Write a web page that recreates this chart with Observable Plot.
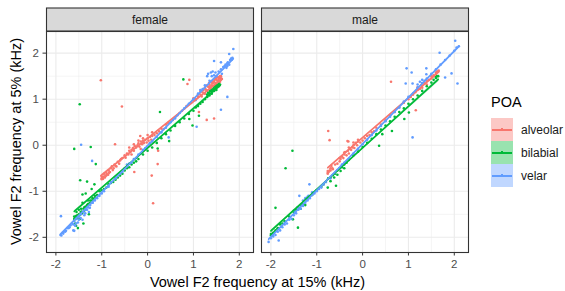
<!DOCTYPE html>
<html><head><meta charset="utf-8">
<script src="https://cdn.jsdelivr.net/npm/d3@7"></script>
<script src="https://cdn.jsdelivr.net/npm/@observablehq/plot@0.6"></script>
<style>
body{margin:0;background:#fff;font-family:"Liberation Sans",Arial,sans-serif;}
#wrap{position:relative;width:565px;height:291px;overflow:hidden;}
#legend{position:absolute;left:491px;top:94px;}
#legend .lt{font-size:14.5px;color:#000;height:24px;line-height:16px;}
#legend .row{display:flex;align-items:center;height:23px;}
#legend .key{position:relative;width:22px;height:23px;}
#legend .key i{position:absolute;left:1px;right:1px;top:10.5px;height:2px;}
#legend .key b{position:absolute;left:10px;top:10px;width:2px;height:3px;}
#legend .lab{font-size:12px;color:#1A1A1A;margin-left:8px;}
</style></head><body><div id="wrap"></div>
<script>
const facets = ["female", "male"];
const groups = ["alveolar", "bilabial", "velar"];
const colors = ["#F8766D", "#00BA38", "#619CFF"];
const xTicks = [-2, -1, 0, 1, 2];
const yTicks = [-2, -1, 0, 1, 2];
const minorTicks = [-1.5, -0.5, 0.5, 1.5];
const xTitle = "Vowel F2 frequency at 15% (kHz)";
const yTitle = "Vowel F2 frequency at 5% (kHz)";
const legendTitle = "POA";

const femaleAlveolar = [[-1.0,-0.68],[-0.95,-0.62],[-0.9,-0.6],[-0.85,-0.55],[-0.8,-0.5],[-0.78,-0.46],[-0.72,-0.42],[-0.7,-0.45],[-0.65,-0.36],[-0.6,-0.33],[-0.58,-0.3],[-0.55,-0.28],[-0.5,-0.22],[-0.48,-0.27],[-0.45,-0.18],[-0.42,-0.2],[-0.4,-0.12],[-0.38,-0.15],[-0.35,-0.1],[-0.32,-0.06],[-0.3,-0.12],[-0.28,-0.02],[-0.25,-0.05],[-0.22,0.0],[-0.2,0.04],[-0.18,-0.03],[-0.15,0.08],[-0.12,0.02],[-0.1,0.1],[-0.08,0.05],[-0.05,0.12],[-0.02,0.06],[0.0,0.15],[0.02,0.1],[0.05,0.18],[0.08,0.12],[0.1,0.2],[0.15,0.22],[0.2,0.26],[0.25,0.3],[0.3,0.36],[0.35,0.35],[0.4,0.45],[0.45,0.48],[0.55,0.55],[0.65,0.65],[0.75,0.75],[0.85,0.85],[0.95,0.92],[1.0,0.98],[1.05,1.0],[1.1,1.05],[1.15,1.1],[1.18,1.06],[1.2,1.15],[1.25,1.12],[1.28,1.2],[1.3,1.18],[1.35,1.25],[1.38,1.22],[1.4,1.3],[1.45,1.28],[1.48,1.35],[1.5,1.32],[1.55,1.4],[1.58,1.38],[1.6,1.45],
  [-1.0,-0.72],[-0.98,-0.7],[-0.96,-0.68],[-0.92,-0.66],[-0.88,-0.63],[-0.84,-0.6],[-0.82,-0.58],[-0.76,-0.54],[-0.74,-0.5],[-0.68,-0.46],[-0.62,-0.4],[1.0,1.02],[1.1,1.1],[1.15,1.16],[1.22,1.2],[1.25,1.25],[1.32,1.27],[1.35,1.32],[1.42,1.34],[1.45,1.38],[1.5,1.42],[1.52,1.4],[1.56,1.46],[1.6,1.5],[1.62,1.44],[1.58,1.47],[1.48,1.45],[1.4,1.36],
  [1.3,1.3],[1.34,1.35],[1.38,1.38],[1.42,1.4],[1.46,1.42],[1.5,1.46],[1.54,1.48],[1.58,1.5],[1.6,1.42],[1.55,1.44],[1.44,1.36],[1.36,1.28],[1.26,1.22],[1.2,1.2],[-0.4,-0.05],[-0.3,0.02],[-0.2,0.1],[-0.1,0.15],[0.0,0.22],[0.1,0.28],[-0.35,-0.2],[-0.15,-0.08],[0.05,0.05],[-1.0,-0.74],[-0.97,-0.73],[-0.93,-0.7],[-0.9,-0.66],[-0.86,-0.64],
  [-1.02,1.41],[-0.56,0.84],[-0.71,0.02],[0.12,-1.26],[0.09,-0.66],[-0.29,-0.58],[0.91,1.42],[0.87,1.33],[1.45,0.58],[1.29,0.55],[0.22,-0.41],[0.23,-0.12],[-0.16,0.2],[1.12,0.72]];
const femaleBilabial = [[-1.6,-1.55],[-1.58,-1.7],[-1.55,-1.45],[-1.52,-1.8],[-1.5,-1.4],[-1.48,-1.6],[-1.45,-1.38],[-1.42,-1.25],[-1.4,-1.7],[-1.38,-1.35],[-1.35,-1.05],[-1.32,-1.3],[-1.3,-1.2],[-1.28,-1.5],[-1.25,-1.2],[-1.22,-0.95],[-1.2,-1.15],[-1.15,-1.1],[-1.1,-1.08],[-1.05,-1.0],[-1.0,-0.98],[-0.95,-0.95],[-0.9,-0.92],[-0.85,-0.85],[-0.8,-0.82],[-0.75,-0.8],[-0.7,-0.75],[-0.65,-0.7],[-0.6,-0.66],[-0.55,-0.62],[-0.5,-0.55],[-0.45,-0.5],[-0.4,-0.48],[-0.35,-0.42],[-0.3,-0.38],[-0.25,-0.35],[-0.2,-0.3],[-0.1,-0.2],[0.0,-0.12],[0.1,-0.05],[0.2,0.05],[0.3,0.15],[0.4,0.24],[0.5,0.32],[0.6,0.42],[0.7,0.5],[0.8,0.58],[0.9,0.68],[1.0,0.75],[1.05,0.82],[1.1,0.85],[1.15,0.9],[1.2,0.94],[1.25,1.0],[1.3,1.05],[1.35,1.08],[1.4,1.12],[1.45,1.18],[1.5,1.2],[1.55,1.28],
  [-1.6,-1.6],[-1.58,-1.56],[-1.56,-1.54],[-1.54,-1.53],[-1.52,-1.52],[-1.5,-1.5],[-1.46,-1.45],[-1.44,-1.44],[-1.4,-1.38],[-1.36,-1.34],[-1.34,-1.33],[-1.3,-1.28],[-1.26,-1.25],[-1.22,-1.2],[-1.18,-1.17],[-1.14,-1.14],[1.3,1.1],[1.35,1.13],[1.4,1.18],[1.45,1.22],[1.48,1.24],[1.5,1.26],[1.52,1.28],[1.55,1.31],[1.58,1.32],[1.42,1.21],
  [-1.6,-1.62],[-1.57,-1.6],[-1.53,-1.58],[-1.49,-1.52],[-1.43,-1.48],[-1.38,-1.42],[1.4,1.2],[1.44,1.24],[1.47,1.28],[1.5,1.3],[1.53,1.3],[1.55,1.34],[1.57,1.3],[1.32,1.14],[1.36,1.18],
  [-1.48,0.89],[-1.6,-0.08],[-1.24,-0.04],[-1.13,-0.41],[-1.47,-0.76],[-1.32,-0.79],[-1.42,-1.07],[-1.16,-0.85],[-1.56,-1.75],[0.27,0.72],[0.78,1.43],[0.98,0.43],[0.47,0.09],[1.12,0.64],[0.91,0.57],[0.22,-0.07]];
const femaleVelar = [[-1.9,-1.95],[-1.85,-1.9],[-1.8,-1.88],[-1.75,-1.8],[-1.7,-1.78],[-1.65,-1.7],[-1.62,-1.85],[-1.6,-1.65],[-1.58,-1.75],[-1.55,-1.6],[-1.52,-1.68],[-1.5,-1.55],[-1.45,-1.5],[-1.42,-1.62],[-1.4,-1.45],[-1.38,-1.52],[-1.35,-1.4],[-1.3,-1.35],[-1.28,-1.45],[-1.25,-1.3],[-1.2,-1.25],[-1.15,-1.2],[-1.1,-1.15],[-1.05,-1.1],[-1.0,-1.05],[-0.95,-1.0],[-0.85,-0.9],[-0.8,-0.8],[-0.7,-0.72],[-0.6,-0.62],[-0.55,-0.58],[-0.5,-0.5],[-0.45,-0.42],[-0.4,-0.4],[-0.35,-0.38],[-0.3,-0.3],[-0.25,-0.28],[-0.2,-0.2],[-0.15,-0.18],[-0.1,-0.1],[-0.05,-0.06],[0.0,-0.02],[0.05,0.04],[0.1,0.08],[0.2,0.18],[0.3,0.28],[0.4,0.38],[0.5,0.5],[0.6,0.58],[0.7,0.7],[0.8,0.8],[0.9,0.9],[1.0,1.0],[1.05,0.98],[1.1,1.12],[1.15,1.2],[1.2,1.22],[1.25,1.3],[1.3,1.5],[1.32,1.55],[1.35,1.4],[1.38,1.58],[1.4,1.5],[1.42,1.6],[1.45,1.52],[1.48,1.58],[1.5,1.5],[1.55,1.6],[1.6,1.65],[1.62,1.55],[1.65,1.7],[1.7,1.75],[1.72,1.68],[1.75,1.8],[1.78,1.75],[1.8,1.85],[1.85,1.9],
  [-1.88,-1.96],[-1.84,-1.92],[-1.78,-1.86],[-1.72,-1.8],[-1.68,-1.74],[1.68,1.72],[1.74,1.78],[1.82,1.88],[1.84,1.86],
  [-1.62,-1.72],[-1.56,-1.7],[-1.5,-1.62],[-1.46,-1.58],[-1.36,-1.48],[-1.32,-1.4],[-1.26,-1.36],
  [-1.45,0.01],[-1.21,-0.34],[-1.89,-1.54],[-1.6,-1.86],[-1.2,-1.25],[1.74,1.05],[1.6,0.77],[1.87,2.09],[1.45,1.83],[1.6,1.8],[1.78,1.98],[1.74,1.72],[1.07,0.4],[0.46,0.17]];
const maleAlveolar = [[-0.76,-0.6],[-0.72,-0.55],[-0.7,-0.5],[-0.68,-0.45],[-0.65,-0.52],[-0.6,-0.42],[-0.55,-0.4],[-0.5,-0.35],[-0.48,-0.3],[-0.45,-0.25],[-0.42,-0.28],[-0.4,-0.2],[-0.38,-0.15],[-0.35,-0.22],[-0.32,-0.12],[-0.3,-0.18],[-0.28,-0.08],[-0.25,-0.1],[-0.22,-0.05],[-0.2,0.0],[-0.18,-0.06],[-0.15,0.05],[-0.12,0.0],[-0.1,0.08],[-0.05,0.06],[0.0,0.1],[0.05,0.15],[0.1,0.2],[0.15,0.22],[0.2,0.28],[0.25,0.3],[0.3,0.38],[0.4,0.45],[0.5,0.55],[0.6,0.65],[0.7,0.72],[0.8,0.82],[0.9,0.92],[1.0,1.0],[1.05,1.05],[1.1,1.1],[1.15,1.15],[1.2,1.2],[1.25,1.22],[1.28,1.3],[1.3,1.25],[1.35,1.35],[1.4,1.32],[1.45,1.42],[1.5,1.45],[1.55,1.5],[1.6,1.55],[1.65,1.6],
  [-0.76,-0.62],[-0.74,-0.58],[-0.7,-0.55],[-0.66,-0.5],[1.5,1.5],[1.55,1.52],[1.6,1.58],[1.62,1.6],[1.66,1.62],
  [-0.5,-0.28],[-0.4,-0.16],[-0.3,-0.05],[-0.2,0.06],[-0.1,0.12],[1.2,1.26],[1.3,1.34],[1.4,1.4],
  [-0.75,0.31],[0.62,1.38],[1.16,0.76],[-0.72,0.11],[-0.31,0.08],[-0.76,-0.56],[-0.33,0.09]];
const maleBilabial = [[-2.0,-1.93],[-1.95,-1.9],[-1.9,-1.85],[-1.85,-1.8],[-1.8,-1.72],[-1.75,-1.7],[-1.7,-1.65],[-1.6,-1.55],[-1.5,-1.45],[-1.45,-1.4],[-1.4,-1.35],[-1.35,-1.3],[-1.3,-1.28],[-1.2,-1.15],[-1.1,-1.08],[-1.0,-0.98],[-0.9,-0.9],[-0.85,-0.85],[-0.8,-0.8],[-0.75,-0.72],[-0.7,-0.7],[-0.65,-0.65],[-0.6,-0.62],[-0.55,-0.55],[-0.5,-0.5],[-0.45,-0.48],[-0.4,-0.42],[-0.35,-0.38],[-0.3,-0.32],[-0.2,-0.22],[-0.1,-0.14],[0.0,-0.04],[0.1,0.05],[0.2,0.14],[0.3,0.24],[0.4,0.34],[0.5,0.43],[0.6,0.52],[0.7,0.62],[0.8,0.72],[0.9,0.8],[1.0,0.9],[1.1,1.0],[1.2,1.08],[1.3,1.18],[1.4,1.28],[1.5,1.36],[1.6,1.46],[1.65,1.5],
  [-2.0,-1.96],[-1.96,-1.92],[-1.92,-1.88],[-1.86,-1.82],[1.55,1.42],[1.6,1.48],[1.62,1.5],
  [-0.7,-0.78],[-0.62,-0.7],[-0.55,-0.64],[-0.48,-0.56],[-0.4,-0.5],[-1.35,-1.38],[-1.25,-1.3],
  [-1.53,-0.12],[-1.68,-0.5],[-1.9,-1.36],[-1.52,-1.61],[-1.41,-1.79],[-0.76,-0.92],[-0.58,-0.88],[0.64,0.31],[0.43,0.24],[0.36,-0.01],[0.91,0.57],[1.01,0.71]];
const maleVelar = [[-2.05,-2.1],[-2.0,-2.02],[-1.95,-1.98],[-1.9,-1.95],[-1.85,-1.88],[-1.8,-1.85],[-1.75,-1.78],[-1.7,-1.72],[-1.65,-1.7],[-1.6,-1.62],[-1.55,-1.6],[-1.5,-1.52],[-1.45,-1.48],[-1.4,-1.4],[-1.35,-1.38],[-1.3,-1.32],[-1.25,-1.25],[-1.2,-1.2],[-1.18,-1.1],[-1.15,-1.15],[-1.1,-1.08],[-1.05,-1.05],[-1.0,-1.0],[-0.95,-0.95],[-0.9,-0.92],[-0.85,-0.85],[-0.8,-0.8],[-0.7,-0.72],[-0.6,-0.6],[-0.5,-0.5],[-0.45,-0.42],[-0.4,-0.38],[-0.3,-0.3],[-0.2,-0.18],[-0.1,-0.08],[0.0,0.02],[0.1,0.12],[0.2,0.22],[0.3,0.32],[0.4,0.42],[0.5,0.52],[0.6,0.62],[0.7,0.72],[0.8,0.82],[0.9,0.95],[1.0,1.05],[1.1,1.12],[1.2,1.25],[1.3,1.35],[1.4,1.45],[1.5,1.55],[1.6,1.65],[1.7,1.75],[1.8,1.85],[1.9,1.95],[2.0,2.05],[2.05,2.12],[2.1,2.15],
  [-1.3,-1.2],[-1.25,-1.15],[-1.2,-1.12],[-1.1,-1.02],[-1.42,-1.35],[-1.5,-1.42],[1.25,1.38],[1.3,1.42],[1.35,1.4],[1.2,1.32],
  [1.09,0.17],[1.94,1.56],[2.07,1.34],[-1.83,-2.07],[0.96,1.67],[1.07,1.58],[1.39,1.67],[0.94,1.34],[1.09,1.34],[1.39,1.54],[1.8,1.47],[1.68,2.01],[2.02,2.27],[-1.38,-1.1],[-1.16,-0.85]];

const rows = [];
function add(sex, poa, pts) { for (const [x, y] of pts) rows.push({sex, poa, x, y}); }
add("female", "alveolar", femaleAlveolar);
add("female", "bilabial", femaleBilabial);
add("female", "velar", femaleVelar);
add("male", "alveolar", maleAlveolar);
add("male", "bilabial", maleBilabial);
add("male", "velar", maleVelar);

const font = "Liberation Sans, Arial, sans-serif";
const fmt = d => String(d);
const plot = Plot.plot({
  width: 565, height: 291,
  marginLeft: 46, marginRight: 96, marginTop: 31, marginBottom: 39,
  style: {fontFamily: font, background: "white", overflow: "visible"},
  fx: {domain: facets, paddingInner: 0.037, paddingOuter: 0, axis: null, label: null},
  x: {domain: [-2.205, 2.31], label: null},
  y: {domain: [-2.33, 2.47], label: null},
  color: {domain: groups, range: colors},
  marks: [
    Plot.ruleX(minorTicks, {stroke: "#EBEBEB", strokeWidth: 0.55}),
    Plot.ruleY(minorTicks, {stroke: "#EBEBEB", strokeWidth: 0.55}),
    Plot.ruleX(xTicks, {stroke: "#EBEBEB", strokeWidth: 1.1}),
    Plot.ruleY(yTicks, {stroke: "#EBEBEB", strokeWidth: 1.1}),
    Plot.dot(rows, {x: "x", y: "y", fx: "sex", fill: "poa", r: 1.3}),
    Plot.linearRegressionY(rows, {x: "x", y: "y", fx: "sex", stroke: "poa", fill: "poa", fillOpacity: 0.4, strokeWidth: 1.6, ci: 0.5}),
    Plot.frame({stroke: "#333333", strokeWidth: 1.1}),
    Plot.axisX({ticks: xTicks, tickFormat: fmt, tickSize: 3.5, tickPadding: 4, fontSize: 11.5, label: null, stroke: "#333333", fill: "#4D4D4D"}),
    Plot.axisY({ticks: yTicks, tickFormat: fmt, tickSize: 3.5, tickPadding: 4, fontSize: 11.5, label: null, stroke: "#333333", fill: "#4D4D4D"})
  ]
});
const wrap = document.getElementById("wrap");
wrap.appendChild(plot);

// strips above each facet, aligned to frame rects
const svg = d3.select(plot);
const sb = plot.getBoundingClientRect();
const frames = [];
plot.querySelectorAll('g[aria-label="frame"] rect').forEach(r => {
  const b = r.getBoundingClientRect();
  frames.push({x: b.left - sb.left, w: b.width});
});
frames.sort((a, b) => a.x - b.x);
const strips = svg.append("g");
frames.forEach((f, i) => {
  strips.append("rect").attr("x", f.x).attr("y", 8).attr("width", f.w).attr("height", 23)
    .attr("fill", "#D9D9D9").attr("stroke", "#333333").attr("stroke-width", 1.1);
  strips.append("text").attr("x", f.x + f.w / 2).attr("y", 19.5).attr("text-anchor", "middle")
    .attr("dominant-baseline", "central").attr("font-size", 12).attr("fill", "#1A1A1A")
    .attr("font-family", font).text(facets[i]);
});
const fl = frames[0], fr = frames[frames.length - 1];
svg.append("text").attr("x", (fl.x + fr.x + fr.w) / 2).attr("y", 287).attr("text-anchor", "middle")
  .attr("font-size", 14.5).attr("font-family", font).attr("fill", "#000").text(xTitle);
svg.append("text").attr("transform", "translate(21,141.5) rotate(-90)").attr("text-anchor", "middle")
  .attr("font-size", 14.5).attr("font-family", font).attr("fill", "#000").text(yTitle);

// legend (HTML, outside the SVG)
const leg = d3.select(wrap).append("div").attr("id", "legend");
leg.append("div").attr("class", "lt").text(legendTitle);
groups.forEach((g, i) => {
  const row = leg.append("div").attr("class", "row");
  const key = row.append("span").attr("class", "key").style("background", d3.interpolateRgb("white", colors[i])(0.4));
  key.append("i").style("background", colors[i]);
  key.append("b").style("background", colors[i]);
  row.append("span").attr("class", "lab").text(g);
});
</script></body></html>
